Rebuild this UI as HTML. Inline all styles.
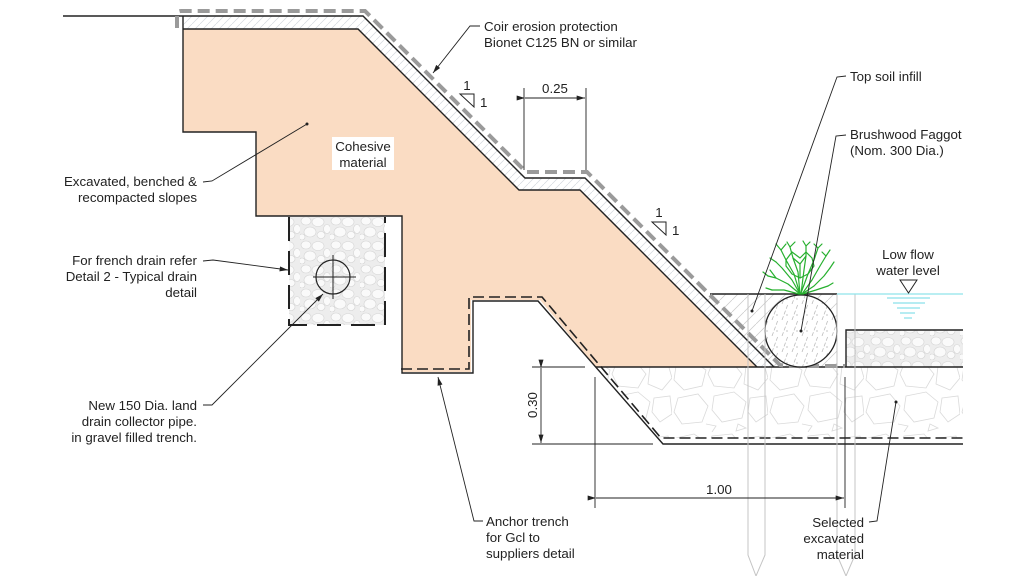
<!DOCTYPE html>
<html><head><meta charset="utf-8"><style>
html,body{margin:0;padding:0;background:#fff;}
svg{display:block;}
text{font-family:"Liberation Sans",Arial,sans-serif;font-size:13.3px;fill:#222;}
</style></head><body>
<svg width="1024" height="576" viewBox="0 0 1024 576" xmlns="http://www.w3.org/2000/svg">
<defs>
<pattern id="hatch" patternUnits="userSpaceOnUse" width="8" height="8">
<rect width="8" height="8" fill="#fff"/>
<path d="M-1 9 L9 -1" stroke="#d3d8dd" stroke-width="0.7"/>
</pattern>
<pattern id="hatch2" patternUnits="userSpaceOnUse" width="12" height="12">
<rect width="12" height="12" fill="#fff"/>
<path d="M-1 13 L13 -1" stroke="#c8c8c8" stroke-width="0.7"/>
</pattern>
<pattern id="fag" patternUnits="userSpaceOnUse" width="10" height="16">
<rect width="10" height="16" fill="#fff"/>
<path d="M2 16 L8 0" stroke="#bdbdbd" stroke-width="0.8" stroke-dasharray="4 2"/>
<circle cx="7" cy="11" r="0.6" fill="#999"/>
</pattern>
<pattern id="gravel" patternUnits="userSpaceOnUse" width="30" height="24">
<rect width="30" height="24" fill="#ededed"/>
<ellipse cx="6" cy="5" rx="5" ry="4" fill="#fafafa" stroke="#d4d4d4" stroke-width="0.6"/>
<ellipse cx="18" cy="6" rx="6" ry="4.5" fill="#fafafa" stroke="#d4d4d4" stroke-width="0.6"/>
<ellipse cx="27" cy="13" rx="3.5" ry="4.5" fill="#fafafa" stroke="#d4d4d4" stroke-width="0.6"/>
<ellipse cx="10" cy="16" rx="6" ry="5" fill="#fafafa" stroke="#d4d4d4" stroke-width="0.6"/>
<ellipse cx="21" cy="19" rx="4" ry="3.5" fill="#fafafa" stroke="#d4d4d4" stroke-width="0.6"/>
<ellipse cx="2" cy="21" rx="3" ry="3" fill="#fafafa" stroke="#d4d4d4" stroke-width="0.6"/>
</pattern>
<pattern id="stones" patternUnits="userSpaceOnUse" width="96" height="72">
<rect width="96" height="72" fill="#fff"/>
<g fill="none" stroke="#dadada" stroke-width="0.8">
<path d="M4 6 L22 2 L34 10 L30 26 L12 30 L2 20 Z"/>
<path d="M40 4 L60 2 L70 14 L62 28 L42 26 L36 14 Z"/>
<path d="M74 6 L92 4 L96 18 L86 30 L72 24 Z"/>
<path d="M6 38 L26 34 L36 46 L30 62 L10 64 L2 52 Z"/>
<path d="M42 36 L62 32 L74 42 L70 58 L50 62 L40 50 Z"/>
<path d="M78 38 L94 36 L96 54 L84 62 L76 52 Z"/>
<path d="M34 64 L44 66 L40 72"/>
<path d="M66 64 L74 68 L64 71 Z"/>
</g>
</pattern>
<marker id="arr" viewBox="0 0 10 6" refX="10" refY="3" markerWidth="9" markerHeight="5" orient="auto" markerUnits="userSpaceOnUse">
<path d="M0 0 L10 3 L0 6 Z" fill="#222"/>
</marker>
<marker id="dot" viewBox="0 0 4 4" refX="2" refY="2" markerWidth="3" markerHeight="3" markerUnits="userSpaceOnUse">
<circle cx="2" cy="2" r="2" fill="#222"/>
</marker>
</defs>

<!-- excavated stone region -->
<polygon points="596,367 963,367 963,438 659,438" fill="url(#stones)"/>
<!-- river gravel strip -->
<rect x="846" y="330" width="117" height="37" fill="url(#gravel)"/>
<!-- topsoil infill -->
<polygon points="701,294 837,294 837,367 774,367" fill="url(#hatch2)"/>
<!-- hatch band -->
<polygon points="183,16 363,16 525,178 585,178 774,367 757,367 580,190 519,190 358,29 183,29" fill="url(#hatch)"/>
<!-- orange cohesive -->
<polygon points="183,29 358,29 519,190 580,190 757,367 596,367 540,300 471,300 471,372 402,372 402,216 256,216 256,132 183,132" fill="#fadcc3"/>
<!-- gravel trench -->
<rect x="289" y="217" width="96" height="108" fill="url(#gravel)"/>

<!-- outlines -->
<g stroke="#222" stroke-width="1.4" fill="none">
<path d="M63 16 L363 16 L525 178 L585 178 L774 367"/>
<path d="M183 16 L183 132 L256 132 L256 216 L402 216 L402 373 L473 373 L473 301 L538 301 L663 444 L963 444"/>
<path d="M183 29 L358 29 L519 190 L580 190 L757 367"/>
<path d="M596 367 L963 367"/>
<path d="M846 367 L846 330 L963 330"/>
<path d="M710 294 L837 294"/>
</g>
<!-- GCL dashed -->
<path d="M401 369 L469 369 L469 297 L542 297 L661 438 L963 438" stroke="#222" stroke-width="1.6" fill="none" stroke-dasharray="11 5"/>
<!-- gravel trench dashed border -->
<path d="M289 217 L289 325 L385 325 L385 217" stroke="#222" stroke-width="2" fill="none" stroke-dasharray="24 10"/>
<!-- pipe -->
<circle cx="333" cy="277" r="17" fill="none" stroke="#222" stroke-width="1.2"/>
<path d="M313 277 L356 277 M333 255 L333 299" stroke="#222" stroke-width="1"/>

<!-- coir gray dashed -->
<path d="M177 28 L177 15 Q177 11 181 11 L365 11 L526 172 L587 172 L780 365 L790 366 L845 366" stroke="#9a9a9a" stroke-width="4" fill="none" stroke-dasharray="12 6"/>

<!-- faggot -->
<circle cx="801" cy="331" r="36" fill="url(#fag)" stroke="#222" stroke-width="1.3"/>

<!-- stakes -->
<g stroke="#c4c4c4" stroke-width="1" fill="none">
<path d="M748 294 L748 555 L756 576 M765 294 L765 555 L756 576"/>
<path d="M837 294 L837 555 L846 576 M855 294 L855 555 L846 576"/>
</g>

<!-- water -->
<path d="M837 294 L963 294" stroke="#8fe3ea" stroke-width="1.2"/>
<path d="M887 298 L930 298 M893 303 L925 303 M897 308 L920 308 M900 313 L915 313 M904 318 L912 318" stroke="#6cd9e6" stroke-width="1"/>
<path d="M900 280 L917 280 L908.5 293 Z" fill="none" stroke="#222" stroke-width="1"/>

<!-- greenery -->
<g stroke="#27b02f" stroke-width="1.2" fill="none" stroke-linejoin="round" stroke-linecap="round">
<path d="M800 294 L788 284 L776 278 L768 276"/>
<path d="M799 294 L784 290 L772 290"/>
<path d="M800 294 L792 280 L782 268 L776 262"/>
<path d="M800 294 L794 274 L786 260 L781 250"/>
<path d="M800 294 L798 272 L793 258 L790 247"/>
<path d="M801 294 L804 270 L806 256 L806 246"/>
<path d="M801 293 L808 274 L814 260 L818 248"/>
<path d="M802 294 L812 280 L820 266 L826 256"/>
<path d="M802 294 L814 286 L824 276 L830 268"/>
<path d="M803 294 L816 290 L828 286"/>
<path d="M786 260 L792 252 L800 258 L806 252 L812 258 L814 266 L808 274 L800 278 L792 274 L786 266 Z"/>
<path d="M793 258 L800 264 L806 256 M800 264 L800 278"/>
<path d="M781 250 L776 244 M781 250 L786 244 M790 247 L787 242 M790 247 L795 242 M806 246 L803 241 M806 246 L810 242 M818 248 L822 244 M818 248 L814 244"/>
<path d="M776 262 L770 258 M776 278 L770 270 M768 276 L763 272 M826 256 L830 250 M830 268 L834 262 M826 256 L822 252 M772 290 L766 288 M828 286 L833 283"/>
</g>

<!-- dimensions -->
<g stroke="#222" stroke-width="0.9" fill="none">
<path d="M524 88 L524 170 M586 88 L586 170"/>
<path d="M525 98 L585 98" marker-start="url(#arr)" marker-end="url(#arr)"/>
<path d="M532 367 L585 367 M532 444 L653 444"/>
<path d="M541 368 L541 443" marker-start="url(#arr)" marker-end="url(#arr)"/>
<path d="M595 377 L595 508 M845 377 L845 508"/>
<path d="M596 498 L844 498" marker-start="url(#arr)" marker-end="url(#arr)"/>
</g>
<text x="555" y="93" text-anchor="middle">0.25</text>
<text x="0" y="0" text-anchor="middle" transform="translate(537,405) rotate(-90)">0.30</text>
<text x="719" y="494" text-anchor="middle">1.00</text>

<!-- slope marks -->
<g stroke="#222" stroke-width="1" fill="none">
<path d="M460 94 L474 94 L474 107 Z"/>
<path d="M652 222 L666 222 L666 235 Z"/>
</g>
<text x="467" y="90" text-anchor="middle">1</text>
<text x="480" y="107">1</text>
<text x="659" y="217" text-anchor="middle">1</text>
<text x="672" y="235">1</text>

<!-- Cohesive label -->
<rect x="332" y="137" width="62" height="33" fill="#fff"/>
<text x="363" y="151" text-anchor="middle">Cohesive</text>
<text x="363" y="167" text-anchor="middle">material</text>

<!-- leaders -->
<g stroke="#222" stroke-width="0.9" fill="none">
<path d="M203 182 L212 181 L307 124" marker-end="url(#dot)"/>
<path d="M203 261 L213 260 L288 270" marker-end="url(#arr)"/>
<path d="M203 405 L212 405 L323 294" marker-end="url(#arr)"/>
<path d="M480 26 L470 26 L433 73" marker-end="url(#arr)"/>
<path d="M846 76 L837 77 L752 311" marker-end="url(#dot)"/>
<path d="M846 135 L836 136 L801 331" marker-end="url(#dot)"/>
<path d="M483 521 L474 521 L438 377" marker-end="url(#arr)"/>
<path d="M869 522 L877 521 L896 402" marker-end="url(#dot)"/>
</g>

<!-- labels -->
<g text-anchor="end">
<text x="197" y="186">Excavated, benched &amp;</text>
<text x="197" y="202">recompacted slopes</text>
<text x="197" y="265">For french drain refer</text>
<text x="197" y="281">Detail 2 - Typical drain</text>
<text x="197" y="297">detail</text>
<text x="197" y="410">New 150 Dia. land</text>
<text x="197" y="426">drain collector pipe.</text>
<text x="197" y="442">in gravel filled trench.</text>
<text x="864" y="527">Selected</text>
<text x="864" y="543">excavated</text>
<text x="864" y="559">material</text>
</g>
<text x="484" y="31">Coir erosion protection</text>
<text x="484" y="47">Bionet C125 BN or similar</text>
<text x="850" y="81">Top soil infill</text>
<text x="850" y="139">Brushwood Faggot</text>
<text x="850" y="155">(Nom. 300 Dia.)</text>
<text x="908" y="259" text-anchor="middle">Low flow</text>
<text x="908" y="275" text-anchor="middle">water level</text>
<text x="486" y="526">Anchor trench</text>
<text x="486" y="542">for Gcl to</text>
<text x="486" y="558">suppliers detail</text>
</svg>
</body></html>
